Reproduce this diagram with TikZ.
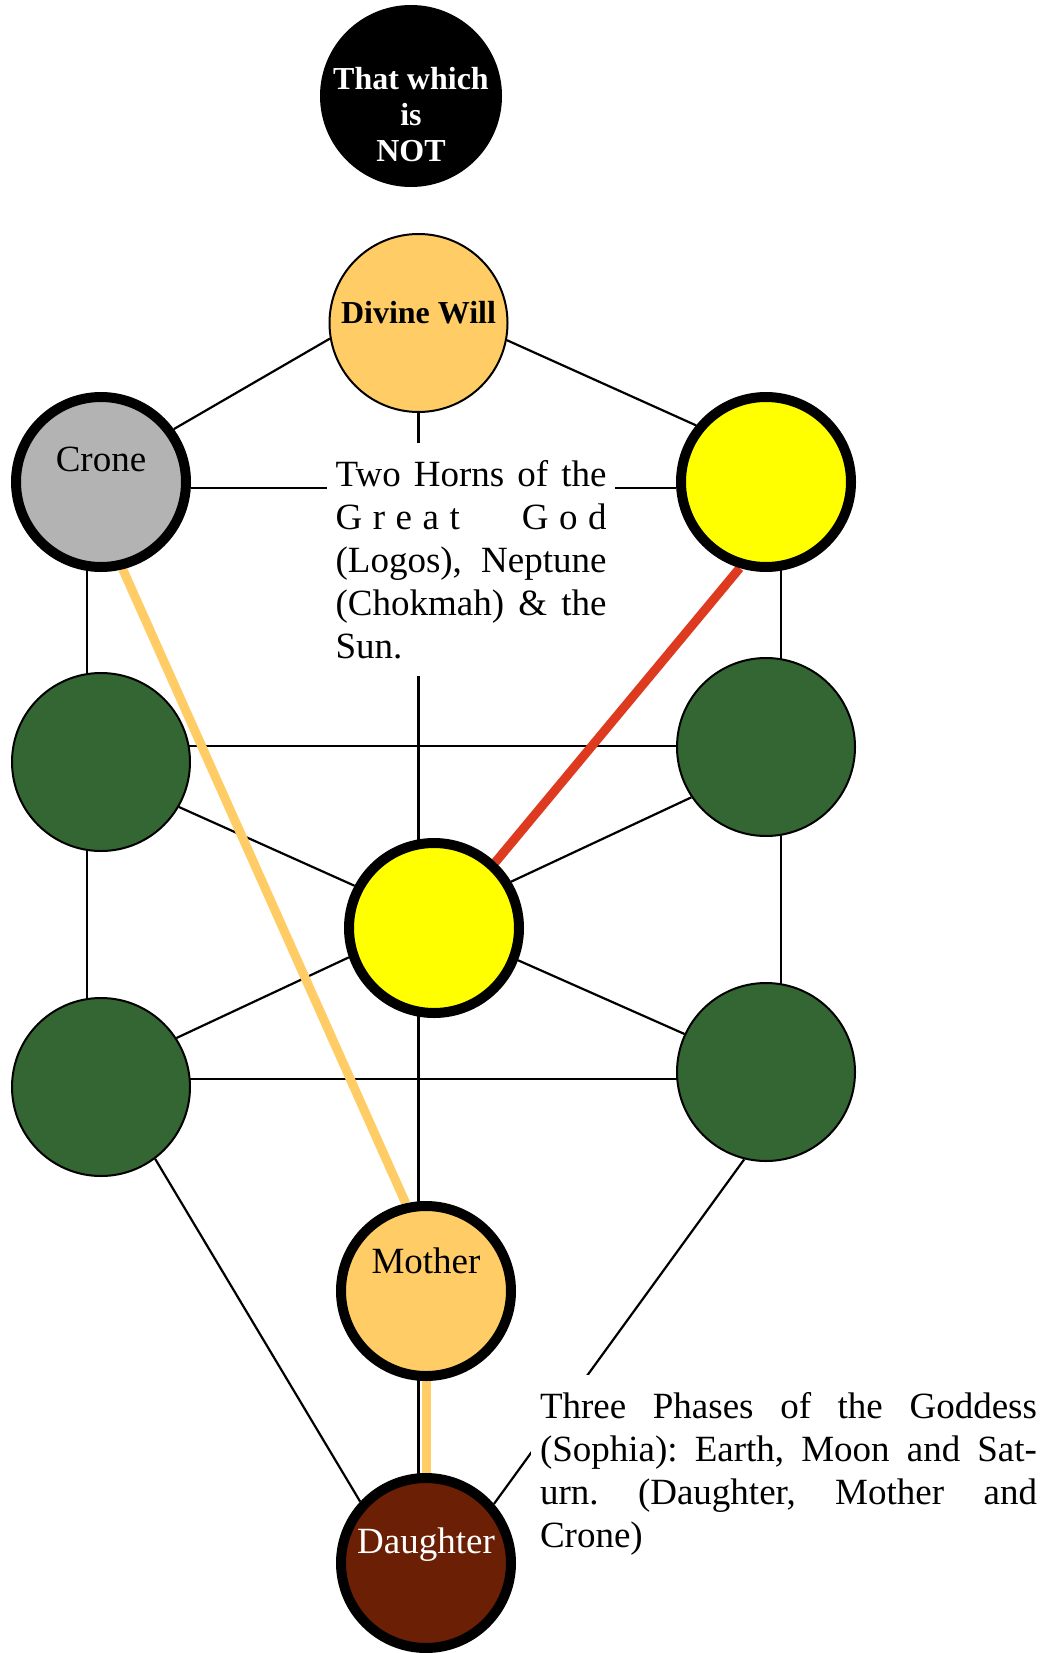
\documentclass[tikz,border=0pt]{standalone}
\usepackage{fontspec}
\setmainfont{Liberation Serif}
\usetikzlibrary{calc,backgrounds}
\frenchspacing

\definecolor{willorange}{HTML}{FFCC66}
\definecolor{cronegray}{HTML}{B3B3B3}
\definecolor{sunyellow}{HTML}{FFFF00}
\definecolor{leafgreen}{HTML}{336633}
\definecolor{earthbrown}{HTML}{6B1F05}
\definecolor{marsred}{HTML}{DE3A20}

\begin{document}
\begin{tikzpicture}[x=0.5pt, y=-0.5pt,
  font=\fontsize{18.5pt}{21.4pt}\selectfont,
  ring/.style={circle, draw, line width=1pt, minimum size=89pt, inner sep=0pt},
  bigring/.style={circle, draw, line width=5pt, minimum size=85pt, inner sep=0pt},
  lift/.style={text height=0pt, text depth=#1},
  boldtext/.style={font=\fontsize{16pt}{18pt}\selectfont\bfseries},
  note/.style={fill=white, align=justify, inner xsep=4.3pt, inner ysep=8.7pt, anchor=north west},
  link/.style={line width=1.1pt},
  thread/.style={line width=4.5pt}]

  \useasboundingbox (0,0) rectangle (1058,1653);

  \node[circle, fill=black, minimum size=91pt, inner sep=-10pt, text=white, align=center, boldtext, text height=66pt, text depth=0pt] (not) at (411,96) {That which\\is\\NOT};
  \node[ring, fill=willorange, boldtext, lift=0pt] (will) at (418.5,323) {Divine Will};

  \node[bigring, fill=cronegray, lift=11pt] (crone) at (101,482) {Crone};
  \node[bigring, fill=sunyellow] (chokmah) at (766,482) {};

  \node[ring, fill=leafgreen] (leftup) at (101,762) {};
  \node[ring, fill=leafgreen] (rightup) at (766,747) {};
  \node[bigring, fill=sunyellow] (sun) at (434,928) {};
  \node[ring, fill=leafgreen] (leftdown) at (101,1087) {};
  \node[ring, fill=leafgreen] (rightdown) at (766,1072) {};

  \node[bigring, fill=willorange, lift=18pt] (mother) at (426,1291) {Mother};
  \node[bigring, fill=earthbrown, text=white, lift=10pt] (daughter) at (426,1563) {Daughter};

  \node[note, text width=135.5pt] (horns) at (326.6,443) {Two Horns of the\linebreak
    G\hfil r\hfil e\hfil a\hfil t\ \hfil\hfil\hfil\hfil\hfil G\hfil o\hfil d\linebreak
    (Logos), Neptune\linebreak (Chokmah) \& the\linebreak Sun.};
  \node[note, text width=248.5pt] (phases) at (531,1375) {Three Phases of the Goddess\linebreak
    (Sophia): Earth, Moon and Sat-\linebreak urn. (Daughter, Mother and\linebreak Crone)};

  \begin{pgfonlayer}{background}
    \draw[link] (will.190) -- (crone.36);
    \draw[link] (will.-11) -- (chokmah.141);
    \draw[link] (will) -- (will |- daughter);
    \draw[link] (crone.-4) -- (chokmah.184);
    \draw[link] ($(crone)+(-14,0)$) -- ($(leftup)+(-14,0)$);
    \draw[link] ($(leftup)+(-14,0)$) -- ($(leftdown)+(-14,0)$);
    \draw[link] ($(chokmah)+(15,0)$) -- ($(rightup)+(15,0)$);
    \draw[link] ($(rightup)+(15,0)$) -- ($(rightdown)+(15,0)$);
    \draw[link] ($(leftup)+(0,-16)$) -- ($(rightup)+(0,-1)$);
    \draw[link] ($(leftdown)+(0,-8)$) -- ($(rightdown)+(0,7)$);
    \draw[link] (leftup.-30) -- (sun.152);
    \draw[link] (rightup.214) -- (sun.31);
    \draw[link] (sun.199) -- (leftdown.33);
    \draw[link] (sun.-21) -- (rightdown.155);
    \draw[link] (leftdown.-53.5) -- (daughter.137);
    \draw[link] (rightdown.256.6) -- (daughter.41.6);
    % coloured paths over the black ones
    \draw[thread, willorange] (crone.-76) -- (mother.103);
    \draw[thread, marsred] (chokmah.253) -- (sun.47);
    \draw[thread, willorange] (mother) -- (daughter);
  \end{pgfonlayer}
\end{tikzpicture}
\end{document}
